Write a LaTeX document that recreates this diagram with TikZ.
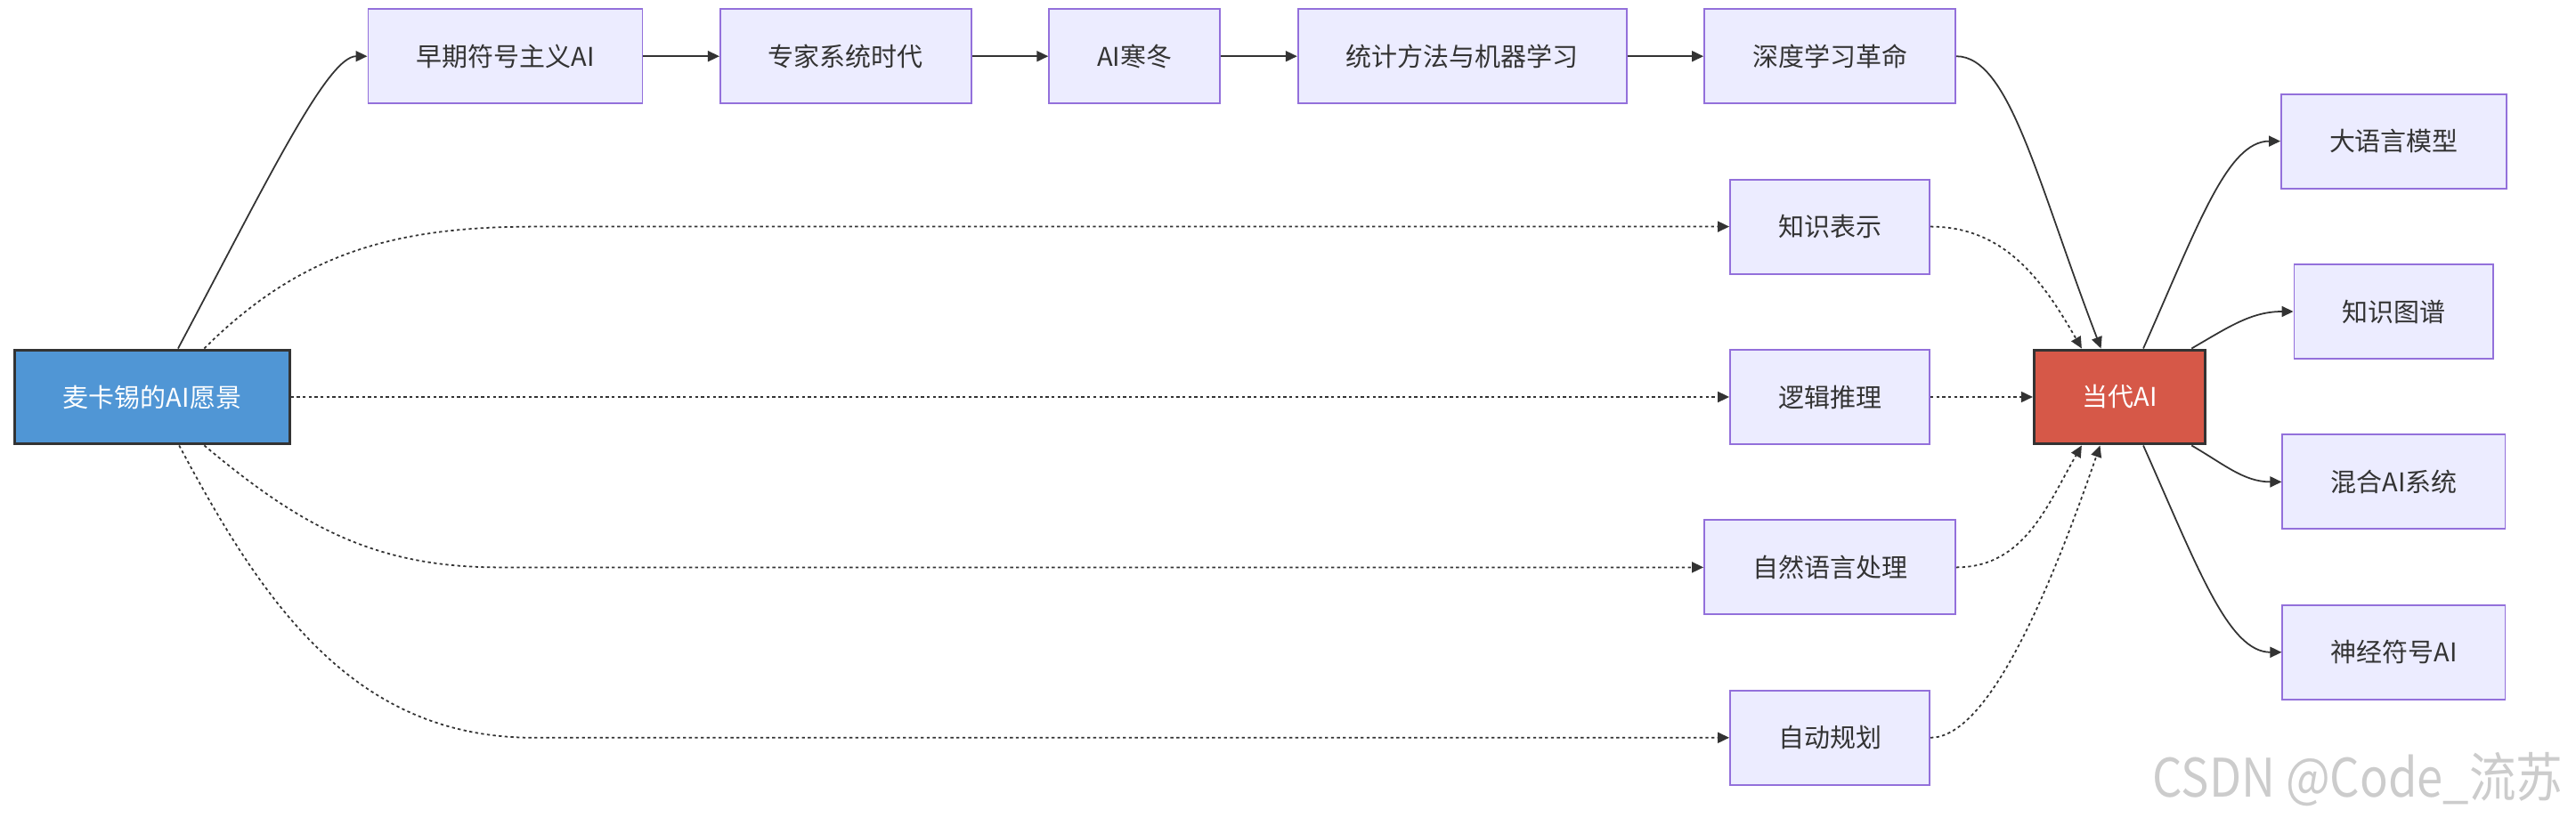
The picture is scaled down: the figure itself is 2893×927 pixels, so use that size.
\documentclass[tikz,border=0pt]{standalone}
\usepackage{fontspec}
\setmainfont{Noto Sans CJK SC}
\usetikzlibrary{arrows.meta, positioning, calc}
\definecolor{boxfill}{HTML}{ECECFF}
\definecolor{boxline}{HTML}{9370DB}
\definecolor{ink}{HTML}{333333}
\definecolor{visionblue}{HTML}{5096D5}
\definecolor{nowred}{HTML}{D65848}

\begin{document}
\begin{tikzpicture}[x=0.02cm, y=0.02cm, node distance=1.67cm and 1.71cm, every node/.style={font=\fontsize{16.5pt}{20pt}\selectfont}, stage/.style={draw=boxline, fill=boxfill, line width=1.1pt, text=ink, minimum height=2.12cm, inner xsep=1.08cm}, hub/.style={draw=ink, line width=1.7pt, text=white, minimum height=2.12cm, inner xsep=1.08cm}, arrow/.style={draw=ink, line width=1pt, -{Triangle[length=0.26cm, width=0.24cm]}}, dotarrow/.style={arrow, dash pattern=on 1.9pt off 1.9pt}]
\useasboundingbox (0,0) rectangle (2893,927);
\node (vision) [hub, fill=visionblue] at (171,481) {麦卡锡的AI愿景};
\node (logic) [stage] at (2055,481) {逻辑推理};
\node (know) [stage, above=of logic] {知识表示};
\node (deep) [stage, above=of know] {深度学习革命};
\node (stat) [stage, left=of deep] {统计方法与机器学习};
\node (winter) [stage, left=of stat] {AI寒冬};
\node (expert) [stage, left=of winter] {专家系统时代};
\node (early) [stage, left=of expert] {早期符号主义AI};
\node (nlp) [stage, below=of logic] {自然语言处理};
\node (plan) [stage, below=of nlp] {自动规划};
\node (now) [hub, fill=nowred, right=2.3cm of logic] {当代AI};
\node (kg) [stage] at ($(now)+(308,96)$) {知识图谱};
\node (llm) [stage, above=of kg] {大语言模型};
\node (hybrid) [stage, below=of kg] {混合AI系统};
\node (neuro) [stage, below=of hybrid] {神经符号AI};
\node (mark) [font=\fontsize{34pt}{34pt}\selectfont, text=black!20, transform shape, xscale=0.88] at (2648,51) {CSDN @Code\_流苏};
\draw[arrow] (vision.62) .. controls +(62:4.2cm) and +(-0.9cm,0) .. (early.west);
\draw[arrow] (early) -- (expert);
\draw[arrow] (expert) -- (winter);
\draw[arrow] (winter) -- (stat);
\draw[arrow] (stat) -- (deep);
\draw[arrow] (deep.east) .. controls +(1.2cm,0) and +(111:4cm) .. (now.111);
\draw[dotarrow] (vision.43) to[out=45, in=180] ($(know.west)+(-1340,0)$) -- (know);
\draw[dotarrow] (vision) -- (logic);
\draw[dotarrow] (vision.-43) to[out=-40, in=180] ($(nlp.west)+(-1353,0)$) -- (nlp);
\draw[dotarrow] (vision.-61) to[out=-62, in=180] ($(plan.west)+(-1343,0)$) -- (plan);
\draw[dotarrow] (know.east) to[out=0, in=120] (now.128);
\draw[dotarrow] (logic) -- (now);
\draw[dotarrow] (nlp.east) to[out=0, in=-120] (now.-128);
\draw[dotarrow] (plan.east) .. controls +(1.2cm,0) and +(-109:4cm) .. (now.-112);
\draw[arrow] (now.64) .. controls +(66:3cm) and +(-1.2cm,0) .. (llm.west);
\draw[arrow] (now.34) to[out=30, in=180] (kg.west);
\draw[arrow] (now.-34) to[out=-30, in=180] (hybrid.west);
\draw[arrow] (now.-64) .. controls +(-66:3cm) and +(-1.2cm,0) .. (neuro.west);
\end{tikzpicture}
\end{document}
